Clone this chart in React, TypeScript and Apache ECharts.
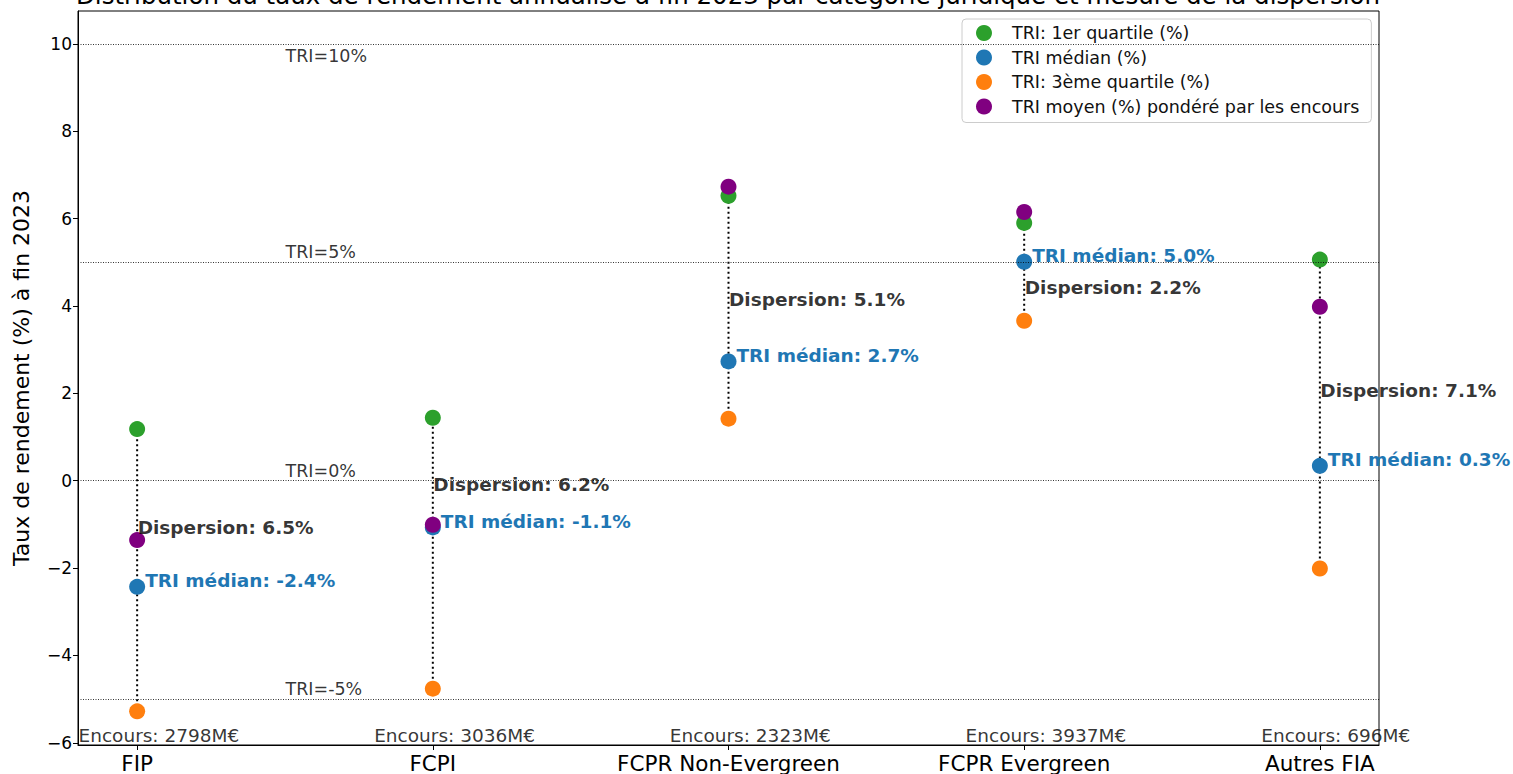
import React, { useEffect, useRef } from 'react';
import * as echarts from 'echarts';

const categories = ['FIP', 'FCPI', 'FCPR Non-Evergreen', 'FCPR Evergreen', 'Autres FIA'];
const q1Values = [1.18, 1.44, 6.52, 5.9, 5.06];
const medianValues = [-2.43, -1.07, 2.73, 5.01, 0.34];
const q3Values = [-5.28, -4.76, 1.42, 3.66, -2.01];
const meanValues = [-1.36, -1.01, 6.73, 6.15, 3.98];
const encours = [2798, 3036, 2323, 3937, 696];
const dispersionLabelY = [-1.08, -0.09, 4.14, 4.42, 2.06];
const referenceLevels = [10, 5, 0, -5];
const referenceLabelY = [9.73, 5.23, 0.23, -4.77];
const encoursLabelY = -5.83;
const yTicks = [-6, -4, -2, 0, 2, 4, 6, 8, 10];
const xTicks = [0, 1, 2, 3, 4];

const seriesNames = [
  'TRI: 1er quartile (%)',
  'TRI médian (%)',
  'TRI: 3ème quartile (%)',
  'TRI moyen (%) pondéré par les encours',
];
const FONT = 'DejaVu Sans';
const title =
  'Distribution du taux de rendement annualisé à fin 2023 par catégorie juridique et mesure de la dispersion';

const fmtMinus = (v: number) => (v < 0 ? '\u2212' + Math.abs(v) : String(v));

export default function App() {
  const ref = useRef<HTMLDivElement>(null);
  useEffect(() => {
    if (!ref.current) return;
    const chart = echarts.init(ref.current, null, { renderer: 'svg' });
    const pts = (vals: number[]) => vals.map((v, i) => [i, v]);
    const option: any = {
      animation: false,
      backgroundColor: '#fff',
      grid: {
        left: 78,
        right: 134,
        top: 11,
        bottom: 29,
        show: true,
        borderColor: '#000',
        borderWidth: 1,
        backgroundColor: 'transparent',
      },
      legend: {
        data: seriesNames,
        orient: 'vertical',
        left: 962,
        top: 19,
        icon: 'circle',
        itemWidth: 30,
        itemHeight: 16,
        itemGap: 6.5,
        padding: [5, 12, 7, 14],
        borderColor: '#cccccc',
        borderWidth: 1,
        borderRadius: 4,
        backgroundColor: 'rgba(255,255,255,0.8)',
        textStyle: { fontFamily: FONT, fontSize: 17.5, color: '#111', padding: [0, 0, 0, 8] },
      },
      xAxis: {
        type: 'value',
        min: -0.2,
        max: 4.2,
        splitLine: { show: false },
        axisLine: { show: true, onZero: false, lineStyle: { color: '#000', width: 1 } },
        axisTick: { show: true, customValues: xTicks, length: 5, lineStyle: { color: '#000' } },
        axisLabel: {
          customValues: xTicks,
          formatter: (v: number) => categories[Math.round(v)] ?? '',
          fontFamily: FONT,
          fontSize: 21.5,
          color: '#000',
          margin: 7,
        },
      },
      yAxis: {
        type: 'value',
        min: -6.05,
        max: 10.75,
        splitLine: { show: false },
        axisLine: { show: true, onZero: false, lineStyle: { color: '#000', width: 1 } },
        axisTick: { show: true, customValues: yTicks, length: 5, lineStyle: { color: '#000' } },
        axisLabel: {
          customValues: yTicks,
          formatter: (v: number) => fmtMinus(v),
          fontFamily: FONT,
          fontSize: 17,
          color: '#000',
          margin: 6,
        },
        name: 'Taux de rendement (%) à fin 2023',
        nameLocation: 'middle',
        nameGap: 46,
        nameTextStyle: { fontFamily: FONT, fontSize: 22, color: '#000' },
      },
      graphic: [
        {
          type: 'text',
          x: 728,
          y: -5,
          silent: true,
          style: {
            text: title,
            fontFamily: FONT,
            fontSize: 24.5,
            fill: '#000',
            align: 'center',
            verticalAlign: 'middle',
            textAlign: 'center',
            textVerticalAlign: 'middle',
          },
        },
      ],
      series: [
        {
          name: 'refs',
          type: 'scatter',
          symbolSize: 1,
          itemStyle: { color: 'rgba(0,0,0,0)' },
          silent: true,
          clip: false,
          data: referenceLevels.map((lvl, k) => ({ value: [0.5, referenceLabelY[k]], lvl })),
          label: {
            show: true,
            position: 'right',
            distance: 0,
            formatter: (p: any) => 'TRI=' + p.data.lvl + '%',
            fontFamily: FONT,
            fontSize: 17.5,
            color: '#000',
          },
          markLine: {
            silent: true,
            symbol: 'none',
            label: { show: false },
            lineStyle: { color: '#000', width: 0.8, type: [1, 1.5] },
            data: referenceLevels.map((v) => ({ yAxis: v })),
          },
        },
        {
          name: seriesNames[0],
          type: 'scatter',
          symbolSize: 16,
          itemStyle: { color: '#2ca02c', opacity: 1 },
          data: pts(q1Values),
        },
        {
          name: seriesNames[1],
          type: 'scatter',
          symbolSize: 16,
          itemStyle: { color: '#1f77b4', opacity: 1 },
          data: pts(medianValues),
          label: {
            show: true,
            position: 'right',
            distance: 0,
            offset: [0, -6],
            formatter: (p: any) => 'TRI médian: ' + p.value[1].toFixed(1) + '%',
            fontFamily: FONT,
            fontSize: 18.5,
            fontWeight: 'bold',
            color: '#1f77b4',
          },
        },
        {
          name: seriesNames[2],
          type: 'scatter',
          symbolSize: 16,
          itemStyle: { color: '#ff7f0e', opacity: 1 },
          data: pts(q3Values),
        },
        {
          name: seriesNames[3],
          type: 'scatter',
          symbolSize: 16,
          itemStyle: { color: '#800080', opacity: 1 },
          data: pts(meanValues),
        },
        {
          name: 'range',
          type: 'custom',
          silent: true,
          data: categories.map((_, i) => [i, q3Values[i], q1Values[i]]),
          encode: { x: 0, y: [1, 2] },
          renderItem: (params: any, api: any) => {
            const x = api.value(0);
            const a = api.coord([x, api.value(1)]);
            const b = api.coord([x, api.value(2)]);
            return {
              type: 'line',
              shape: { x1: a[0], y1: a[1], x2: b[0], y2: b[1] },
              style: { stroke: '#000', lineWidth: 2, lineDash: [2, 3] },
            };
          },
        },
        {
          name: 'dispersion',
          type: 'scatter',
          symbolSize: 1,
          itemStyle: { color: 'rgba(0,0,0,0)' },
          silent: true,
          clip: false,
          data: categories.map((_, i) => ({
            value: [i, dispersionLabelY[i]],
            disp: q1Values[i] - q3Values[i],
          })),
          label: {
            show: true,
            position: 'right',
            distance: 0,
            formatter: (p: any) => 'Dispersion: ' + p.data.disp.toFixed(1) + '%',
            fontFamily: FONT,
            fontSize: 18.5,
            fontWeight: 'bold',
            color: '#000',
          },
        },
        {
          name: 'encours',
          type: 'scatter',
          symbolSize: 1,
          itemStyle: { color: 'rgba(0,0,0,0)' },
          silent: true,
          clip: false,
          data: categories.map((_, i) => ({ value: [i - 0.2, encoursLabelY], enc: encours[i] })),
          label: {
            show: true,
            position: 'right',
            distance: 0,
            formatter: (p: any) => 'Encours: ' + p.data.enc + 'M€',
            fontFamily: FONT,
            fontSize: 18.5,
            color: '#000',
          },
        },
      ],
    };
    chart.setOption(option);
    return () => chart.dispose();
  }, []);
  return (
    <div
      ref={ref}
      style={{ position: 'fixed', left: 0, top: 0, width: 1513, height: 774 }}
    />
  );
}
